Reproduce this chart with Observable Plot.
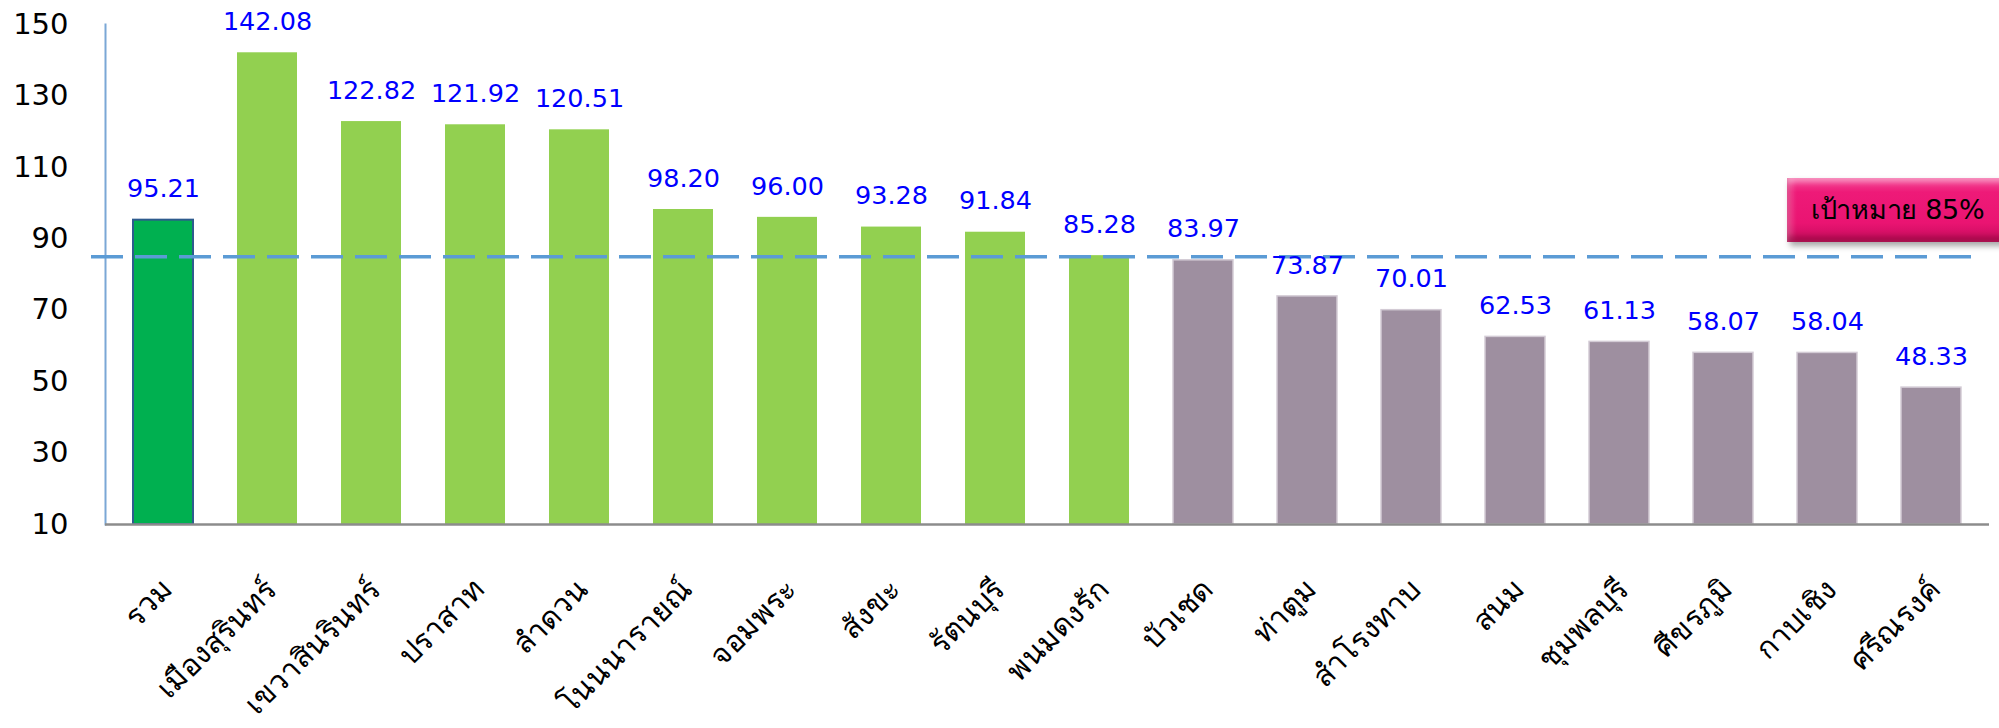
<!DOCTYPE html>
<html>
<head>
<meta charset="utf-8">
<script src="https://cdn.jsdelivr.net/npm/d3@7"></script>
<script src="https://cdn.jsdelivr.net/npm/@observablehq/plot@0.6"></script>
<style>
  html, body { margin: 0; padding: 0; background: #fff; }
  #wrap { position: relative; width: 1999px; height: 728px; overflow: hidden; font-family: "DejaVu Sans", "Noto Sans", sans-serif; }
  #target {
    position: absolute; left: 1787px; top: 178px; width: 230px; height: 64px;
    box-sizing: border-box;
    background: linear-gradient(#f4509a, #ee1a78 22%, #ea1472 70%, #c40c5c);
    box-shadow: inset 0 5px 4px rgba(255,255,255,0.30), inset 0 -6px 5px rgba(120,0,45,0.40), inset 6px 0 5px rgba(255,255,255,0.18), 3px 4px 6px rgba(0,0,0,0.35);
    color: #000; font-size: 27px; line-height: 64px; padding-left: 24px; letter-spacing: -0.3px; white-space: nowrap;
  }
</style>
</head>
<body>
<div id="wrap">
  <div id="chart"></div>
  <div id="target">เป้าหมาย 85%</div>
</div>
<script>
const categories = ["รวม","เมืองสุรินทร์","เขวาสินรินทร์","ปราสาท","ลำดวน","โนนนารายณ์","จอมพระ","สังขะ","รัตนบุรี","พนมดงรัก","บัวเชด","ท่าตูม","สำโรงทาบ","สนม","ชุมพลบุรี","ศีขรภูมิ","กาบเชิง","ศรีณรงค์"];
const values = [95.21,142.08,122.82,121.92,120.51,98.20,96.00,93.28,91.84,85.28,83.97,73.87,70.01,62.53,61.13,58.07,58.04,48.33];
const groups = ["รวม","ผ่าน","ผ่าน","ผ่าน","ผ่าน","ผ่าน","ผ่าน","ผ่าน","ผ่าน","ผ่าน","ไม่ผ่าน","ไม่ผ่าน","ไม่ผ่าน","ไม่ผ่าน","ไม่ผ่าน","ไม่ผ่าน","ไม่ผ่าน","ไม่ผ่าน"];
const yTicks = [10,30,50,70,90,110,130,150];
const target = 85;

const data = categories.map((name, i) => ({name, value: values[i], group: groups[i]}));
const font = "'DejaVu Sans', 'Noto Sans', sans-serif";

const chart = Plot.plot({
  width: 1999,
  height: 728,
  marginLeft: 105,
  marginRight: 10,
  marginTop: 24,
  marginBottom: 204,
  style: {fontFamily: font, background: "transparent"},
  x: {domain: categories, paddingInner: 0.427, paddingOuter: 0.21, axis: null},
  y: {domain: [10, 150], axis: null},
  color: {domain: ["รวม","ผ่าน","ไม่ผ่าน"], range: ["#00b050","#92d050","#9e8fa0"]},
  marks: [
    Plot.barY(data, {x: "name", y1: 10, y2: "value", fill: "group",
      stroke: d => d.group === "รวม" ? "#2e5b8e" : d.group === "ไม่ผ่าน" ? "#d3cbd5" : "none",
      strokeWidth: d => d.group === "รวม" ? 2 : 1.5}),
    Plot.frame({anchor: "left", stroke: "#7ba7d6", strokeWidth: 2}),
    Plot.ruleY([10], {stroke: "#8c8c8c", strokeWidth: 2.5}),
    Plot.ruleY([target], {stroke: "#5b9bd5", strokeWidth: 3.5, strokeDasharray: "32,12", insetLeft: -14, insetRight: 18}),
    Plot.text(data, {x: "name", y: "value", text: d => d3.format(".2f")(d.value), dy: -31, fill: "#0000ff", fontSize: 25.5}),
    Plot.axisY({ticks: yTicks, tickSize: 0, tickPadding: 37, fontSize: 29, fill: "#000", label: null, tickFormat: d => String(d)}),
    Plot.text(categories, {x: d => d, frameAnchor: "bottom", text: d => d, rotate: -45, textAnchor: "end", lineAnchor: "middle", dx: 4, dy: 60, fontSize: 30, fill: "#000"})
  ]
});
document.getElementById("chart").appendChild(chart);
</script>
</body>
</html>
